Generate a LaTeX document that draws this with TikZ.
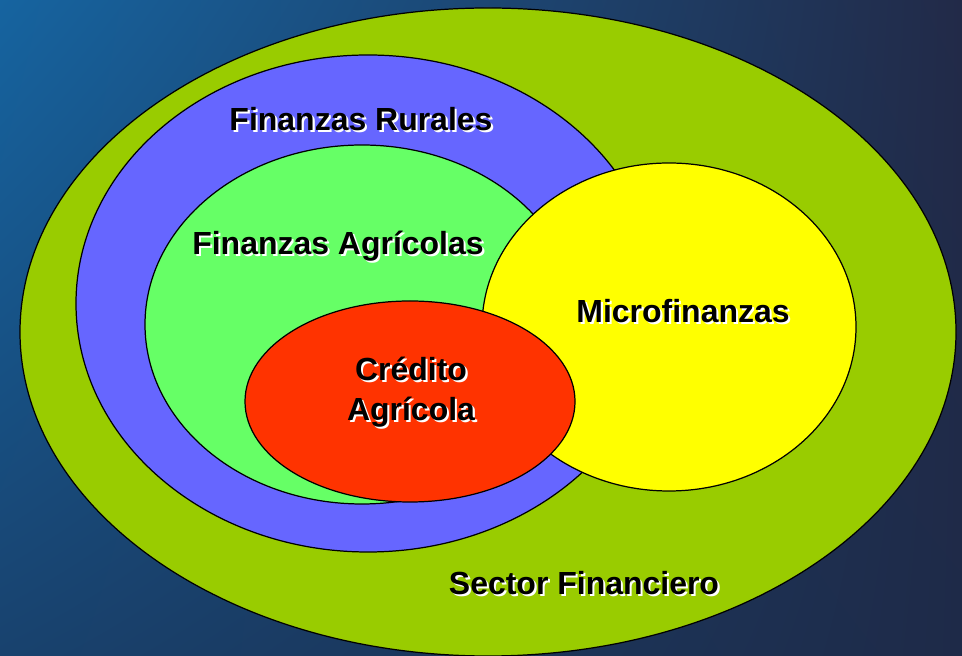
\documentclass[tikz,border=0pt]{standalone}
\usepackage{fontspec}
\setmainfont{Liberation Sans}
\usepackage{tikz}
\usetikzlibrary{shadings}

\definecolor{sectorgreen}{HTML}{99CC00}
\definecolor{ruralblue}{HTML}{6666FF}
\definecolor{agrigreen}{HTML}{66FF66}
\definecolor{microyellow}{HTML}{FFFF00}
\definecolor{creditred}{HTML}{FF3300}
\definecolor{bgtl}{RGB}{22,100,160}
\definecolor{bgtr}{RGB}{34,42,72}
\definecolor{bgbl}{RGB}{24,66,110}
\definecolor{bgbr}{RGB}{30,42,72}

% text with a white drop shadow
\newcommand{\shtext}[1]{\makebox[0pt][l]{\raisebox{-1.2pt}{\hspace{1.2pt}\textcolor{white}{#1}}}#1}

\tikzset{
  setlabel/.style={font=\fontsize{18.2}{20}\selectfont\bfseries, text=black, inner sep=0pt, align=center},
  setline/.style={draw=black, line width=0.7pt}
}

\begin{document}
\begin{tikzpicture}[x=0.02cm, y=0.02cm]
\useasboundingbox (0,0) rectangle (962,655);
\shade[upper left=bgtl, upper right=bgtr, lower left=bgbl, lower right=bgbr] (0,0) rectangle (962,655);
% sets, outer to inner
\fill[sectorgreen, setline] (488,323) ellipse [x radius=468, y radius=324];
\fill[ruralblue, setline] (368,351.5) ellipse [x radius=292, y radius=248.5];
\fill[agrigreen, setline] (362,330.5) ellipse [x radius=217, y radius=179.5];
\fill[microyellow, setline] (669,328) ellipse [x radius=187, y radius=164];
\fill[creditred, setline] (410,253.5) ellipse [x radius=165, y radius=100.5];
% labels
\node[setlabel] (rural) at (361,535) {\shtext{Finanzas Rurales}};
\node[setlabel] (agricola) at (338,408) {\shtext{Finanzas Agrícolas}};
\node[setlabel] (micro) at (683,343) {\shtext{Microfinanzas}};
\node[setlabel, align=center] (credito) at (411,262) {\shtext{Crédito}\\[2.5pt]\shtext{Agrícola}};
\node[setlabel] (sector) at (584,71) {\shtext{Sector Financiero}};
\end{tikzpicture}
\end{document}
